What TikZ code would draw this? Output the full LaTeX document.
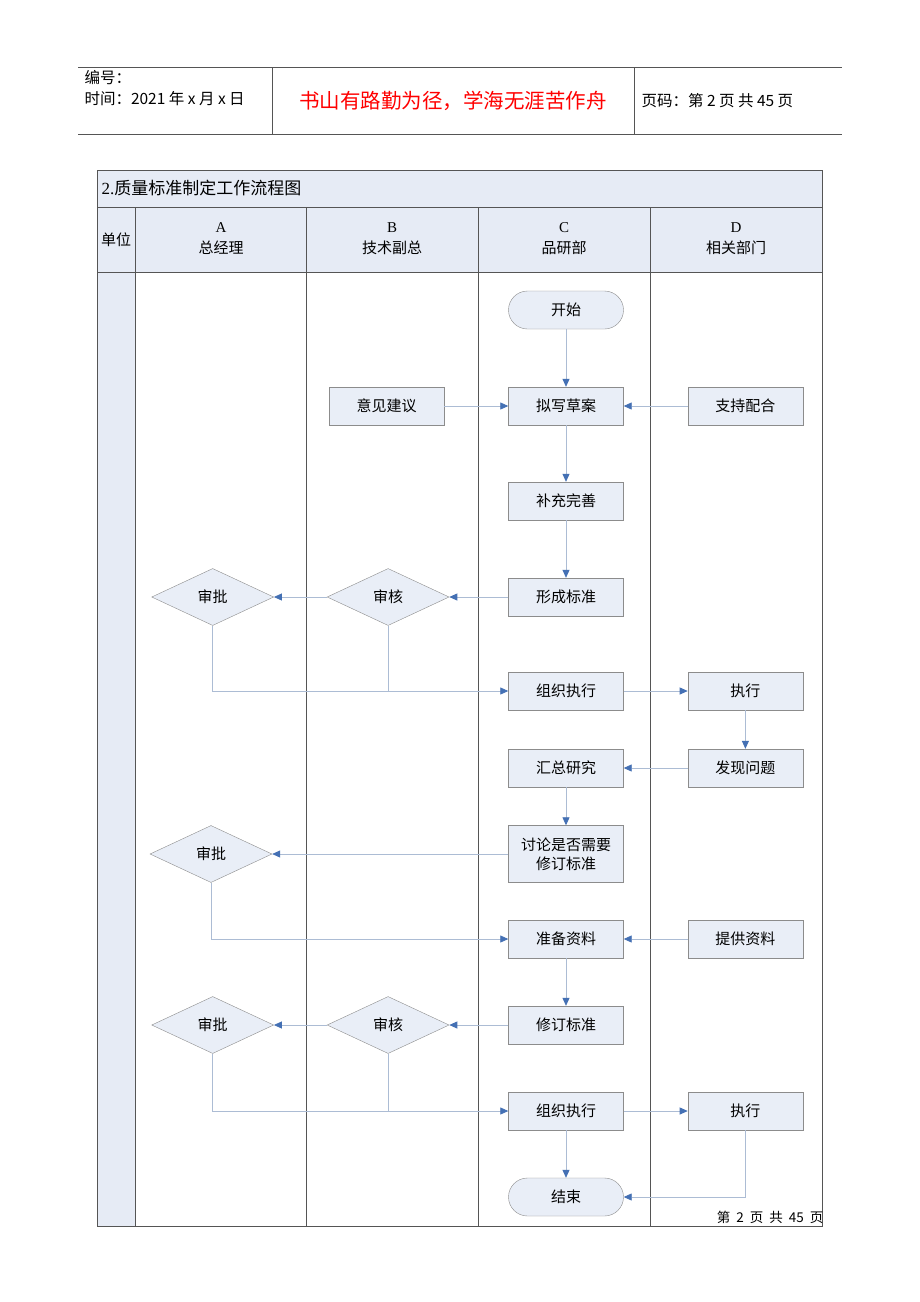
\documentclass[tikz,border=0pt]{standalone}
\usepackage{fontspec}
\setmainfont{Liberation Serif}
\newfontfamily\cjk{Noto Sans CJK SC}
\usetikzlibrary{positioning,shapes.geometric,arrows.meta}
\definecolor{boxfill}{RGB}{233,238,247}
\definecolor{boxline}{RGB}{140,140,140}
\definecolor{headfill}{RGB}{230,235,245}
\definecolor{flowline}{RGB}{172,188,212}
\definecolor{flowtip}{RGB}{68,112,180}
\definecolor{gridline}{RGB}{85,85,85}
\tikzset{
  txt/.style={font=\cjk\fontsize{15}{19}\selectfont},
  box/.style={txt, draw=boxline, fill=boxfill, minimum width=115pt, minimum height=38pt, inner sep=0pt, align=center},
  term/.style={box, rounded corners=19pt},
  decide/.style={txt, diamond, draw=boxline, fill=boxfill, minimum width=122pt, minimum height=57pt, inner sep=0pt},
  flow/.style={draw=flowline, line width=0.8pt, -{Triangle[color=flowtip,length=8pt,width=7pt]}},
  link/.style={draw=flowline, line width=0.8pt},
  grid/.style={draw=gridline, line width=0.8pt},
}
\begin{document}
\begin{tikzpicture}[x=1pt,y=-1pt]
\useasboundingbox (0,0) rectangle (920,1302);
\fill[white] (0,0) rectangle (920,1302);
\draw[gridline, line width=0.9pt] (78,67) -- (842,67) (78,134) -- (842,134) (272,67) -- (272,134) (634,67) -- (634,134);
\node[anchor=west, font=\cjk\fontsize{15.5}{18}\selectfont] (docno) at (81,78) {编号：};
\node[anchor=west, font=\cjk\fontsize{15.5}{18}\selectfont] (doctime) at (81,99) {时间：2021 年 x 月 x 日};
\node[font=\cjk\fontsize{20.5}{24}\selectfont, text=red] (motto) at (453,101) {书山有路勤为径，学海无涯苦作舟};
\node[anchor=west, font=\cjk\fontsize{15.5}{18}\selectfont] (pageno) at (638,101) {页码：第 2 页 共 45 页};
\fill[headfill] (97,170) rectangle (822,272);
\fill[headfill] (97,272) rectangle (135,1226);
\draw[grid] (97,170) rectangle (822,1226);
\draw[grid] (97,207) -- (822,207) (97,272) -- (822,272);
\foreach \x in {135,306,478,650} \draw[grid] (\x,207) -- (\x,1226);
\node[anchor=west, font=\fontsize{17}{20}\selectfont] (title) at (98,188) {2.{\cjk 质量标准制定工作流程图}};
\node[txt] (unit) at (116,240) {单位};
\node[align=center, font=\fontsize{15}{21}\selectfont] (colA) at (221,239) {A\\{\cjk 总经理}};
\node[align=center, font=\fontsize{15}{21}\selectfont] (colB) at (392,239) {B\\{\cjk 技术副总}};
\node[align=center, font=\fontsize{15}{21}\selectfont] (colC) at (564,239) {C\\{\cjk 品研部}};
\node[align=center, font=\fontsize{15}{21}\selectfont] (colD) at (736,239) {D\\{\cjk 相关部门}};
\node[term] (start) at (566,310) {开始};
\node[box] (draft) at (566,406) {拟写草案};
\node[box, left=64pt of draft] (advice) {意见建议};
\node[box, right=64pt of draft] (support) {支持配合};
\node[box] (refine) at (566,501) {补充完善};
\node[box] (form) at (566,597) {形成标准};
\node[decide, left=59pt of form] (review1) {审核};
\node[decide, left=53pt of review1] (approve1) {审批};
\node[box] (exec1) at (566,691) {组织执行};
\node[box, right=64pt of exec1] (do1) {执行};
\node[box] (summary) at (566,768) {汇总研究};
\node[box, right=64pt of summary] (issue) {发现问题};
\node[box, minimum height=57pt] (discuss) at (566,854) {讨论是否需要\\修订标准};
\node[decide] (approve2) at (211,854) {审批};
\node[box] (prepare) at (566,939) {准备资料};
\node[box, right=64pt of prepare] (provide) {提供资料};
\node[box] (revise) at (566,1025) {修订标准};
\node[decide, left=59pt of revise] (review2) {审核};
\node[decide, left=53pt of review2] (approve3) {审批};
\node[box] (exec2) at (566,1111) {组织执行};
\node[box, right=64pt of exec2] (do2) {执行};
\node[term] (finish) at (566,1197) {结束};
\draw[flow] (start) -- (draft);
\draw[flow] (advice) -- (draft);
\draw[flow] (support) -- (draft);
\draw[flow] (draft) -- (refine);
\draw[flow] (refine) -- (form);
\draw[flow] (form) -- (review1);
\draw[flow] (review1) -- (approve1);
\draw[flow] (approve1.south) |- (exec1.west);
\draw[link] (review1.south) -- (review1.south |- exec1.west);
\draw[flow] (exec1) -- (do1);
\draw[flow] (do1) -- (issue);
\draw[flow] (issue) -- (summary);
\draw[flow] (summary) -- (discuss);
\draw[flow] (discuss) -- (approve2);
\draw[flow] (approve2.south) |- (prepare.west);
\draw[flow] (provide) -- (prepare);
\draw[flow] (prepare) -- (revise);
\draw[flow] (revise) -- (review2);
\draw[flow] (review2) -- (approve3);
\draw[flow] (approve3.south) |- (exec2.west);
\draw[link] (review2.south) -- (review2.south |- exec2.west);
\draw[flow] (exec2) -- (do2);
\draw[flow] (exec2) -- (finish);
\draw[flow] (do2.south) |- (finish.east);
\node[anchor=east, font=\cjk\fontsize{13.5}{15}\selectfont] (footer) at (827,1217) {第\ \ 2\ \ 页\ \ 共\ \ 45\ \ 页};
\end{tikzpicture}
\end{document}
